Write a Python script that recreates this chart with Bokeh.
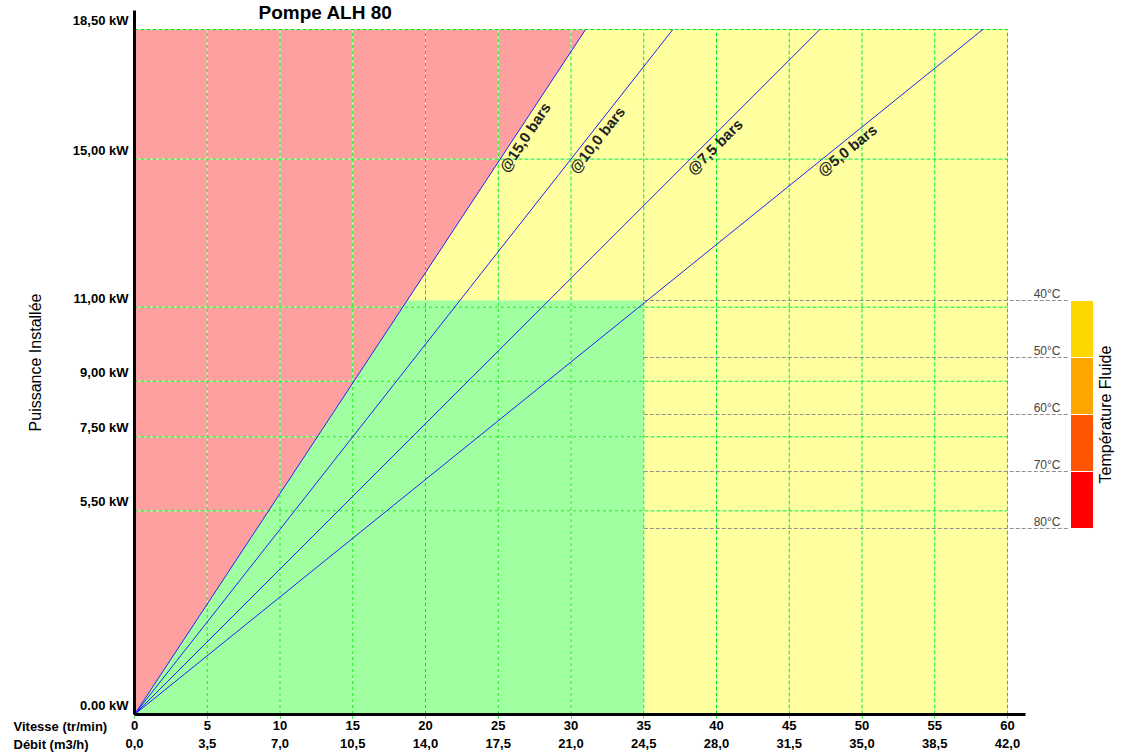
import math
from bokeh.plotting import figure
from bokeh.models import Range1d, LinearAxis, FixedTicker
from bokeh.embed import file_html
from bokeh.resources import INLINE
from bokeh.core.properties import value

# ---------------- data ----------------
TITLE = "Pompe ALH 80"
Y_LABEL = "Puissance Installée"
X_LABEL_1 = "Vitesse (tr/min)"
X_LABEL_2 = "Débit (m3/h)"
TEMP_LABEL = "Température Fluide"

vitesse_ticks = [0, 5, 10, 15, 20, 25, 30, 35, 40, 45, 50, 55, 60]
debit_labels = ["0,0", "3,5", "7,0", "10,5", "14,0", "17,5", "21,0",
                "24,5", "28,0", "31,5", "35,0", "38,5", "42,0"]
puissance_ticks = [0.0, 5.5, 7.5, 9.0, 11.0, 15.0, 18.5]
puissance_labels = ["0.00 kW", "5,50 kW", "7,50 kW", "9,00 kW",
                    "11,00 kW", "15,00 kW", "18,50 kW"]

pression_labels = ["@15,0 bars", "@10,0 bars", "@7,5 bars", "@5,0 bars"]
vitesse_at_max = [31.0, 37.0, 47.1, 58.3]   # speed at which each curve reaches max power
puissance_max = 18.5
vitesse_max = 60
label_puissance = 14.82

zone_vitesse_max = 35.0
zone_puissance_max = 11.18

temperatures = [40, 50, 60, 70, 80]
temp_colors = ["#FFD700", "#FFA500", "#FF5500", "#FF0000"]

# ---------------- layout (pixels) ----------------
W, H = 1125, 754
ORIGIN_X, ORIGIN_Y = 134, 714        # pixel of (0, 0)
px_per_x = 14.55                     # pixels per tr/min
px_per_y = (ORIGIN_Y - 29) / puissance_max   # pixels per kW
x_start = -ORIGIN_X / px_per_x
x_end = (W - ORIGIN_X) / px_per_x
y_start = -(H - ORIGIN_Y) / px_per_y
y_end = ORIGIN_Y / px_per_y
y_axis_top = (ORIGIN_Y - 10) / px_per_y
# temperature scale: 40 degC at pixel 300, 80 degC at pixel 528
t_per_px = 10 / 57.0
t_top = 40 - 300 * t_per_px
t_bottom = 40 + (H - 300) * t_per_px

def px_x(px):
    return (px - ORIGIN_X) / px_per_x

def px_y(py):
    return (ORIGIN_Y - py) / px_per_y

FONT = value("Liberation Sans")

p = figure(width=W, height=H, output_backend="svg", toolbar_location=None,
           x_range=Range1d(x_start, x_end), y_range=Range1d(y_start, y_end),
           min_border=0, min_border_left=0, min_border_right=0,
           min_border_top=0, min_border_bottom=0,
           outline_line_color=None, background_fill_color="white",
           border_fill_color="white")
p.extra_y_ranges = {"temp": Range1d(start=t_bottom, end=t_top)}
p.xgrid.visible = False
p.ygrid.visible = False

# zones
p.quad(left=[0], right=[vitesse_max], bottom=[0], top=[puissance_max],
       fill_color="#FFFFA0", line_color=None)
x15 = vitesse_at_max[0]
p.patch(x=[0, x15, 0], y=[0, puissance_max, puissance_max],
        fill_color="#FFA0A0", line_color=None)
slope15 = puissance_max / x15
p.patch(x=[0, zone_vitesse_max, zone_vitesse_max, zone_puissance_max / slope15],
        y=[0, 0, zone_puissance_max, zone_puissance_max],
        fill_color="#A0FFA0", line_color=None)

# grid
gx = vitesse_ticks
gy = puissance_ticks[1:]
for col, dash in (("white", "solid"), ("#00EE00", "4 2")):
    p.segment(x0=gx, x1=gx, y0=[0] * len(gx), y1=[puissance_max] * len(gx),
              line_color=col, line_width=1, line_dash=dash)
    p.segment(x0=[0] * len(gy), x1=[vitesse_max] * len(gy), y0=gy, y1=gy,
              line_color=col, line_width=1, line_dash=dash)

# temperature reference lines
p.segment(x0=[zone_vitesse_max] * len(temperatures), x1=[px_x(1068)] * len(temperatures),
          y0=temperatures, y1=temperatures, y_range_name="temp",
          line_color="#909090", line_width=1, line_dash="4 2")

# pressure curves
for xm, lab in zip(vitesse_at_max, pression_labels):
    p.line(x=[0, xm], y=[0, puissance_max], line_color="#2020FF", line_width=1)
    slope = puissance_max / xm
    ang = math.atan(slope * px_per_y / px_per_x)
    p.text(x=[label_puissance / slope], y=[label_puissance], text=[lab], angle=ang,
           text_font=FONT, text_font_style="bold", text_font_size="15px",
           text_color="#222222", text_align="left", text_baseline="top")

# temperature bar
p.quad(left=px_x(1070), right=px_x(1093), top=temperatures[:-1], bottom=temperatures[1:],
       y_range_name="temp", fill_color=temp_colors, line_color="white", line_width=1)
p.text(x=[px_x(1060)] * len(temperatures), y=temperatures,
       text=[f"{t}°C" for t in temperatures], y_range_name="temp",
       text_font=FONT, text_font_size="12px", text_color="#444444",
       text_align="right", text_baseline="bottom")
p.text(x=[px_x(1105)], y=[(temperatures[0] + temperatures[-1]) / 2], text=[TEMP_LABEL],
       y_range_name="temp", angle=math.pi / 2, text_font=FONT, text_font_size="16px",
       text_color="#000000", text_align="center", text_baseline="middle")

# title and x axis row captions
p.text(x=[px_x(325)], y=[px_y(1)], text=[TITLE], text_font=FONT, text_font_style="bold",
       text_font_size="19px", text_color="#000000", text_align="center", text_baseline="top")
p.text(x=[px_x(13)] * 2, y=[px_y(726), px_y(744)], text=[X_LABEL_1, X_LABEL_2],
       text_font=FONT, text_font_style="bold", text_font_size="13px",
       text_color="#000000", text_align="left", text_baseline="middle")

# axes
xa = p.xaxis[0]
xa.fixed_location = 0
xa.ticker = FixedTicker(ticks=vitesse_ticks)
xa.major_label_overrides = {v: str(v) for v in vitesse_ticks}
xa.bounds = (0, px_x(1025))
xa.axis_line_width = 3
xa.axis_line_color = "black"
xa.major_tick_line_color = "#00EE00"
xa.major_tick_line_dash = "2 2"
xa.major_tick_in = 0
xa.major_tick_out = 4
xa.minor_tick_line_color = None
xa.major_label_standoff = 2
xa.major_label_text_font = "Liberation Sans"
xa.major_label_text_font_style = "bold"
xa.major_label_text_font_size = "13px"
xa.major_label_text_color = "black"

xa2 = LinearAxis(ticker=FixedTicker(ticks=vitesse_ticks),
                 major_label_overrides=dict(zip(vitesse_ticks, debit_labels)))
xa2.fixed_location = 0
xa2.bounds = (0, vitesse_max)
xa2.axis_line_color = None
xa2.major_tick_line_color = None
xa2.minor_tick_line_color = None
xa2.major_tick_in = 0
xa2.major_tick_out = 0
xa2.major_label_standoff = 24
xa2.major_label_text_font = "Liberation Sans"
xa2.major_label_text_font_style = "bold"
xa2.major_label_text_font_size = "13px"
xa2.major_label_text_color = "black"
p.add_layout(xa2, "below")

ya = p.yaxis[0]
ya.fixed_location = 0
ya.bounds = (0, y_axis_top)
ya.ticker = FixedTicker(ticks=puissance_ticks)
ya.major_label_overrides = {t: lab + "\n" for t, lab in zip(puissance_ticks, puissance_labels)}
ya.axis_line_width = 3
ya.axis_line_color = "black"
ya.major_tick_line_color = None
ya.major_tick_in = 0
ya.major_tick_out = 0
ya.minor_tick_line_color = None
ya.major_label_standoff = 6
ya.major_label_text_font = "Liberation Sans"
ya.major_label_text_font_style = "bold"
ya.major_label_text_font_size = "13px"
ya.major_label_text_color = "black"
ya.axis_label = Y_LABEL
ya.axis_label_text_font = "Liberation Sans"
ya.axis_label_text_font_style = "normal"
ya.axis_label_text_font_size = "16px"
ya.axis_label_text_color = "black"
ya.axis_label_standoff = 26

open("out.html", "w").write(file_html(p, INLINE))
